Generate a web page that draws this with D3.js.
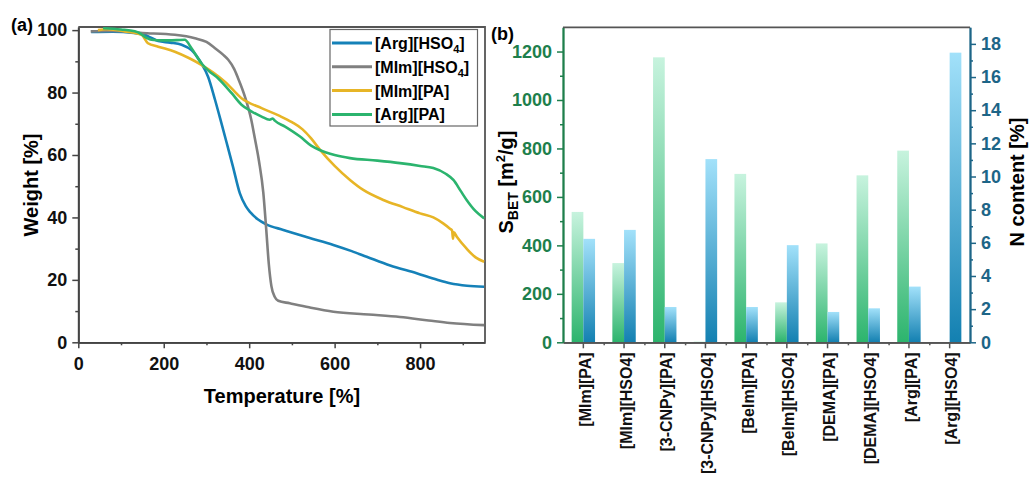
<!DOCTYPE html>
<html lang="en">
<head>
  <meta charset="UTF-8" />
  <title>TGA and BET / N content</title>
  <script src="https://d3js.org/d3.v7.min.js"></script>
  <style>
    body {
      margin: 0;
      background: #ffffff;
    }

    svg text {
      font-family: "Liberation Sans", Arial, sans-serif;
      font-weight: bold;
    }

    .curve {
      fill: none;
      stroke-width: 2.6;
      stroke-linejoin: round;
    }
  </style>
</head>
<body>

<svg id="chart" width="1029" height="477"></svg>

<script>
/* ---------------- DATA ---------------- */

// panel (a): [temperature, weight %]
const argHso4 = [
  [30,99.4],[80,99.5],[130,99.1],[155,98.5],[170,97.6],[187,96.5],[215,96],[242,95.3],[265,93.6],
  [288,89.4],[304,85],[320,77.7],[335,70.2],[350,62.5],[362,56.3],[378,47.8],[392,43.6],[403,41.6],
  [420,39.4],[440,37.8],[480,36],[540,33.5],[597,31.2],[640,29.2],[675,27.4],[730,24.6],[792,22.1],
  [840,20],[870,18.9],[910,18.1],[950,17.8]
];
const mimHso4 = [
  [29,99.6],[80,99.7],[150,99.1],[226,98.5],[273,97.4],[300,96.2],[320,94.2],[340,92],[351,90.5],
  [365,87.5],[374,84.6],[390,78.7],[405,71.2],[413,65.5],[423,58],[433,48],[440,36],[446,25],
  [452,18],[460,14.5],[468,13.3],[495,12.5],[540,11.2],[597,9.8],[680,8.9],[753,8.1],[820,7],
  [870,6.2],[950,5.5]
];
const mimPa = [
  [46,100],[65,100.3],[109,99.6],[148,98.5],[163,95.8],[187,94.7],[226,93.1],[260,91],[288,88.9],
  [315,86.5],[343,83.5],[382,78.2],[429,75],[470,72.6],[500,70.5],[525,68.2],[545,65.3],[565,61.8],
  [600,56.5],[636,52],[667,48.8],[714,45.6],[760,43.3],[800,41.3],[831,40],[854,38.1],[870,36.4],
  [875,35.8],[877,33.2],[879,35.2],[886,33.8],[909,30],[930,27.2],[950,25.8]
];
const argPa = [
  [58,100.6],[100,100.2],[132,99.6],[144,99],[160,97.5],[171,96.9],[195,96.7],[230,96.8],[249,96.9],
  [265,94.2],[288,89.4],[305,87],[327,84.6],[359,79.8],[382,76.1],[405,74],[429,72.3],[448,71.3],
  [455,71.7],[460,71],[484,69.1],[519,65.9],[545,63],[565,61.6],[600,60],[636,59],[700,58.2],
  [753,57.4],[800,56.5],[831,55.8],[860,54],[878,52],[895,48.5],[909,45.6],[930,42],[950,39.7]
];

const tgaNames = ["[Arg][HSO4]", "[MIm][HSO4]", "[MIm][PA]", "[Arg][PA]"];
const tgaColors = ["#1581b8", "#808080", "#e7b526", "#2bb46e"];

// panel (b)
const samples = [
  "[MIm][PA]", "[MIm][HSO4]", "[3-CNPy][PA]", "[3-CNPy][HSO4]", "[BeIm][PA]",
  "[BeIm][HSO4]", "[DEMA][PA]", "[DEMA][HSO4]", "[Arg][PA]", "[Arg][HSO4]"
];
const sBet = [538, 327, 1176, 3, 695, 165, 408, 689, 791, 0];
const nContent = [6.24, 6.78, 2.13, 11.05, 2.13, 5.86, 1.83, 2.05, 3.36, 17.47];

/* ---------------- SVG SETUP ---------------- */

const svg = d3.select("#chart");
const defs = svg.append("defs");

function gradient(id, top, bottom) {
  const g = defs.append("linearGradient")
    .attr("id", id)
    .attr("x1", 0).attr("y1", 0).attr("x2", 0).attr("y2", 1);
  g.append("stop").attr("offset", "0%").attr("stop-color", top);
  g.append("stop").attr("offset", "100%").attr("stop-color", bottom);
}
gradient("gGreen", "#c7f3de", "#2cb46d");
gradient("gBlue", "#a2e1fa", "#1380b1");

function styleAxis(g, color, size) {
  g.select(".domain").attr("stroke", color).attr("stroke-width", 1.8);
  g.selectAll(".tick line").attr("stroke", color).attr("stroke-width", 1.5);
  g.selectAll(".tick text")
    .attr("fill", color === "#444" ? "#111" : color)
    .style("font-size", size + "px");
}

/* ---------------- PANEL (a) ---------------- */

const ax = d3.scaleLinear().domain([0, 952]).range([78.3, 485]);
const ay = d3.scaleLinear().domain([0, 101]).range([342.3, 27]);

const a = svg.append("g");

// minor ticks
a.append("g")
  .attr("transform", `translate(0,${ay(0)})`)
  .call(d3.axisBottom(ax).tickValues([100, 300, 500, 700, 900]).tickSize(3).tickFormat("").tickSizeOuter(0))
  .call(g => styleAxis(g, "#444", 18));
a.append("g")
  .attr("transform", `translate(${ax(0)},0)`)
  .call(d3.axisLeft(ay).tickValues([10, 30, 50, 70, 90]).tickSize(3).tickFormat("").tickSizeOuter(0))
  .call(g => styleAxis(g, "#444", 18));

a.append("g")
  .attr("transform", `translate(0,${ay(0)})`)
  .call(d3.axisBottom(ax).tickValues([0, 200, 400, 600, 800]).tickSize(6).tickPadding(9).tickSizeOuter(0))
  .call(g => styleAxis(g, "#444", 18));
a.append("g")
  .attr("transform", `translate(${ax(0)},0)`)
  .call(d3.axisLeft(ay).tickValues([0, 20, 40, 60, 80, 100]).tickSize(6).tickPadding(5).tickSizeOuter(0))
  .call(g => styleAxis(g, "#444", 18));

// frame
a.append("path")
  .attr("d", `M${ax(0)},${ay(101)}H${ax(952)}V${ay(0)}`)
  .attr("fill", "none")
  .attr("stroke", "#555")
  .attr("stroke-width", 1.8);

const line = d3.line()
  .x(d => ax(d[0]))
  .y(d => ay(d[1]))
  .curve(d3.curveMonotoneX);

a.selectAll(".curve")
  .data([argHso4, mimHso4, mimPa, argPa])
  .enter()
  .append("path")
  .attr("class", "curve")
  .attr("stroke", (d, i) => tgaColors[i])
  .attr("d", line);

// legend
const leg = a.append("g");
leg.append("rect")
  .attr("x", 330).attr("y", 29.5)
  .attr("width", 147.5).attr("height", 96.5)
  .attr("fill", "#fff")
  .attr("stroke", "#666")
  .attr("stroke-width", 1.2);

tgaNames.forEach((name, i) => {
  const y = 43 + i * 23.8;
  leg.append("line")
    .attr("x1", 332).attr("x2", 372)
    .attr("y1", y).attr("y2", y)
    .attr("stroke", tgaColors[i])
    .attr("stroke-width", 3);
  const t = leg.append("text")
    .attr("x", 375).attr("y", y + 6)
    .style("font-size", "16px");
  if (name.endsWith("HSO4]")) {
    t.append("tspan").text(name.slice(0, -2));
    t.append("tspan").attr("dy", 4).style("font-size", "11px").text("4");
    t.append("tspan").attr("dy", -4).text("]");
  } else {
    t.text(name);
  }
});

a.append("text")
  .attr("x", 282).attr("y", 403)
  .attr("text-anchor", "middle")
  .style("font-size", "20px")
  .text("Temperature [%]");

a.append("text")
  .attr("transform", "translate(38,185) rotate(-90)")
  .attr("text-anchor", "middle")
  .style("font-size", "20px")
  .text("Weight [%]");

a.append("text")
  .attr("x", 11).attr("y", 31)
  .style("font-size", "18px")
  .text("(a)");

/* ---------------- PANEL (b) ---------------- */

const bx = d3.scaleBand().domain(samples).range([563, 970]).padding(0);
const by = d3.scaleLinear().domain([0, 1300]).range([342.3, 27.3]);
const bn = d3.scaleLinear().domain([0, 19]).range([342.3, 27.3]);
const barW = 11.7;

const b = svg.append("g");

b.selectAll(".bet")
  .data(samples)
  .enter()
  .append("rect")
  .attr("class", "bet")
  .attr("x", (d, i) => bx(d) + bx.bandwidth() / 2 - barW)
  .attr("width", barW)
  .attr("y", (d, i) => by(sBet[i]))
  .attr("height", (d, i) => by(0) - by(sBet[i]))
  .attr("fill", "url(#gGreen)");

b.selectAll(".ncont")
  .data(samples)
  .enter()
  .append("rect")
  .attr("class", "ncont")
  .attr("x", d => bx(d) + bx.bandwidth() / 2)
  .attr("width", barW)
  .attr("y", (d, i) => bn(nContent[i]))
  .attr("height", (d, i) => bn(0) - bn(nContent[i]))
  .attr("fill", "url(#gBlue)");

const green = "#1e7f4c";
const teal = "#1d6587";

// minor ticks
b.append("g")
  .attr("transform", `translate(${bx.range()[0]},0)`)
  .call(d3.axisLeft(by).tickValues([100, 300, 500, 700, 900, 1100]).tickSize(3).tickFormat("").tickSizeOuter(0))
  .call(g => styleAxis(g, green, 18));
b.append("g")
  .attr("transform", `translate(${bx.range()[1]},0)`)
  .call(d3.axisRight(bn).tickValues([1, 3, 5, 7, 9, 11, 13, 15, 17]).tickSize(3).tickFormat("").tickSizeOuter(0))
  .call(g => styleAxis(g, teal, 18));

const edges = d3.scaleLinear().domain([0, samples.length]).range(bx.range());
b.append("g")
  .attr("transform", `translate(0,${by(0)})`)
  .call(d3.axisBottom(edges).tickValues(d3.range(1, samples.length)).tickSize(3).tickFormat("").tickSizeOuter(0))
  .call(g => styleAxis(g, "#555", 16));

b.append("g")
  .attr("transform", `translate(0,${by(0)})`)
  .call(d3.axisBottom(bx).tickSize(6).tickSizeOuter(0))
  .call(g => styleAxis(g, "#555", 16))
  .call(g => g.selectAll(".tick text")
    .attr("fill", "#111")
    .attr("text-anchor", "end")
    .attr("transform", "rotate(-90)")
    .attr("x", -10)
    .attr("y", 2)
    .attr("dy", "0.35em"));

b.append("g")
  .attr("transform", `translate(${bx.range()[0]},0)`)
  .call(d3.axisLeft(by).tickValues(d3.range(0, 1201, 200)).tickFormat(d3.format("d"))
    .tickSize(6).tickPadding(5).tickSizeOuter(0))
  .call(g => styleAxis(g, green, 18));

b.append("g")
  .attr("transform", `translate(${bx.range()[1]},0)`)
  .call(d3.axisRight(bn).tickValues(d3.range(0, 19, 2)).tickSize(6).tickPadding(5).tickSizeOuter(0))
  .call(g => styleAxis(g, teal, 18));

b.append("line")
  .attr("x1", bx.range()[0]).attr("x2", bx.range()[1])
  .attr("y1", by(1300)).attr("y2", by(1300))
  .attr("stroke", "#555")
  .attr("stroke-width", 1.8);

const sLabel = b.append("text")
  .attr("transform", "translate(513,182) rotate(-90)")
  .attr("text-anchor", "middle")
  .style("font-size", "20px");
sLabel.append("tspan").text("S");
sLabel.append("tspan").attr("dy", 5).style("font-size", "14px").text("BET");
sLabel.append("tspan").attr("dy", -5).text(" [m");
sLabel.append("tspan").attr("dy", -8).style("font-size", "13px").text("2");
sLabel.append("tspan").attr("dy", 8).text("/g]");

b.append("text")
  .attr("transform", "translate(1024,182) rotate(-90)")
  .attr("text-anchor", "middle")
  .style("font-size", "20px")
  .text("N content [%]");

b.append("text")
  .attr("x", 491).attr("y", 40)
  .style("font-size", "18px")
  .text("(b)");
</script>

</body>
</html>
